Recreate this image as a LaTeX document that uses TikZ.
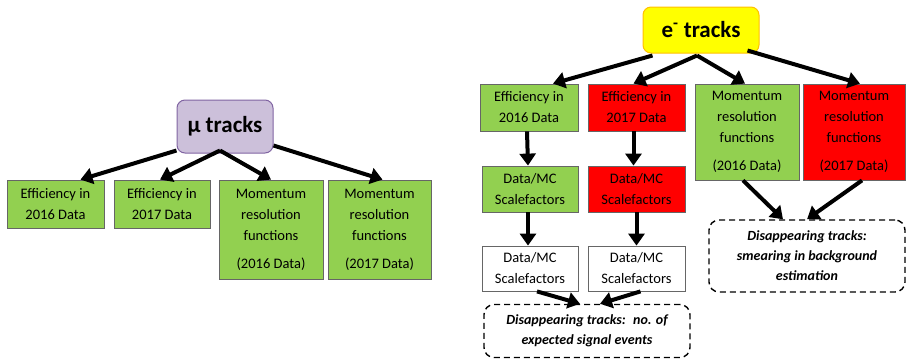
\documentclass[tikz,border=0pt]{standalone}
\usepackage{fontspec}
\setmainfont{Carlito}
\usepackage{xcolor}
\usetikzlibrary{calc, arrows.meta}

\definecolor{boxgreen}{HTML}{92D050}
\definecolor{boxred}{HTML}{FF0000}
\definecolor{mupurple}{HTML}{CCC0DA}
\definecolor{muborder}{HTML}{8064A2}
\definecolor{eyellow}{HTML}{FFFF00}
\definecolor{eborder}{HTML}{FFC000}

\tikzset{
	box/.style = {draw = black!60, line width = 0.8pt, align = center, inner sep = 0pt,
		font = \fontsize{14.5}{21}\selectfont},
	greenbox/.style = {box, fill = boxgreen},
	redbox/.style = {box, fill = boxred},
	whitebox/.style = {box, fill = white},
	head/.style = {rounded corners = 8pt, line width = 1pt, align = center,
		font = \fontsize{23}{26}\selectfont\bfseries},
	result/.style = {draw, dashed, dash pattern = on 6pt off 4pt, line width = 1.4pt,
		rounded corners = 10pt, align = center,
		font = \fontsize{14}{20}\selectfont\bfseries\itshape},
	flow/.style = {line width = 4pt, -{Triangle[width = 16pt, length = 12pt]}}
}

\begin{document}
\begin{tikzpicture}[x = 1pt, y = -1pt]
	\useasboundingbox (0,0) rectangle (906,360);

	% muon side
	\node [head, draw = muborder, fill = mupurple, minimum width = 96pt, minimum height = 53pt] (mu) at (225,126.5) {μ tracks};
	\node [greenbox, minimum width = 97pt, minimum height = 48pt] (mueff16) at (55.5,204) {Efficiency in\\2016 Data};
	\node [greenbox, minimum width = 96pt, minimum height = 48pt] (mueff17) at (162,204) {Efficiency in\\2017 Data};
	\node [greenbox, minimum width = 104pt, minimum height = 99pt] (mumom16) at (271,229.5) {Momentum\\resolution\\functions\\[7pt](2016 Data)};
	\node [greenbox, minimum width = 103pt, minimum height = 99pt] (mumom17) at (379.5,229.5) {Momentum\\resolution\\functions\\[7pt](2017 Data)};

	% electron side
	\node [head, draw = eborder, fill = eyellow, minimum width = 116pt, minimum height = 46pt] (el) at (701,30) {e\textsuperscript{-} tracks};
	\node [greenbox, minimum width = 98pt, minimum height = 47pt] (eleff16) at (529,107.5) {Efficiency in\\2016 Data};
	\node [redbox, minimum width = 97pt, minimum height = 47pt] (eleff17) at (636.5,107.5) {Efficiency in\\2017 Data};
	\node [greenbox, minimum width = 104pt, minimum height = 96pt] (elmom16) at (747,132) {Momentum\\resolution\\functions\\[7pt](2016 Data)};
	\node [redbox, minimum width = 102pt, minimum height = 96pt] (elmom17) at (854,132) {Momentum\\resolution\\functions\\[7pt](2017 Data)};

	\node [greenbox, minimum width = 96pt, minimum height = 46pt] (elsf16) at (530,189) {Data/MC\\Scalefactors};
	\node [redbox, minimum width = 97pt, minimum height = 46pt] (elsf17) at (636.5,189) {Data/MC\\Scalefactors};
	\node [whitebox, minimum width = 96pt, minimum height = 45pt] (sig16) at (530,268.5) {Data/MC\\Scalefactors};
	\node [whitebox, minimum width = 97pt, minimum height = 45pt] (sig17) at (636.5,268.5) {Data/MC\\Scalefactors};

	\node [result, minimum width = 206pt, minimum height = 53pt] (signal) at (587,331) {Disappearing tracks:~ no. of\\expected signal events};
	\node [result, minimum width = 196pt, minimum height = 72pt] (smear) at (807,256) {Disappearing tracks:\\smearing in background\\estimation};

	\begin{scope}[flow]
		\draw ([yshift = 3pt]mu.south west) -- ([xshift = 25pt]mueff16.north);
		\draw ([xshift = -5pt, yshift = 3pt]mu.south) -- ([xshift = -2pt]mueff17.north);
		\draw ([xshift = -5pt, yshift = 3pt]mu.south) -- (mumom16.north);
		\draw ([yshift = 8pt]mu.south east) -- ([xshift = 3pt]mumom17.north);

		\draw ([xshift = 10pt, yshift = -2pt]el.south west) -- ([xshift = 24pt]eleff16.north);
		\draw ([xshift = -4pt, yshift = -2pt]el.south) -- ([xshift = -3pt]eleff17.north);
		\draw ([xshift = -4pt, yshift = -2pt]el.south) -- ([xshift = -2pt]elmom16.north);
		\draw ([xshift = -12pt, yshift = 3pt]el.south east) -- ([xshift = 6pt]elmom17.north);

		\draw ([xshift = -2pt]eleff16.south) -- ([xshift = -2pt]elsf16.north);
		\draw ([xshift = -3pt]eleff17.south) -- ([xshift = -3pt]elsf17.north);
		\draw ([xshift = -2pt]elsf16.south) -- ([xshift = -2pt]sig16.north);
		\draw (elsf17.south) -- (sig17.north);

		\draw ([xshift = 7pt]sig16.south) -- ([xshift = -7pt]signal.north);
		\draw ([xshift = 4pt]sig17.south) -- ([xshift = 13pt]signal.north);
		\draw ([xshift = -4pt]elmom16.south) -- ([xshift = -24pt]smear.north);
		\draw ([xshift = 8pt]elmom17.south) -- (smear.north);
	\end{scope}
\end{tikzpicture}
\end{document}
